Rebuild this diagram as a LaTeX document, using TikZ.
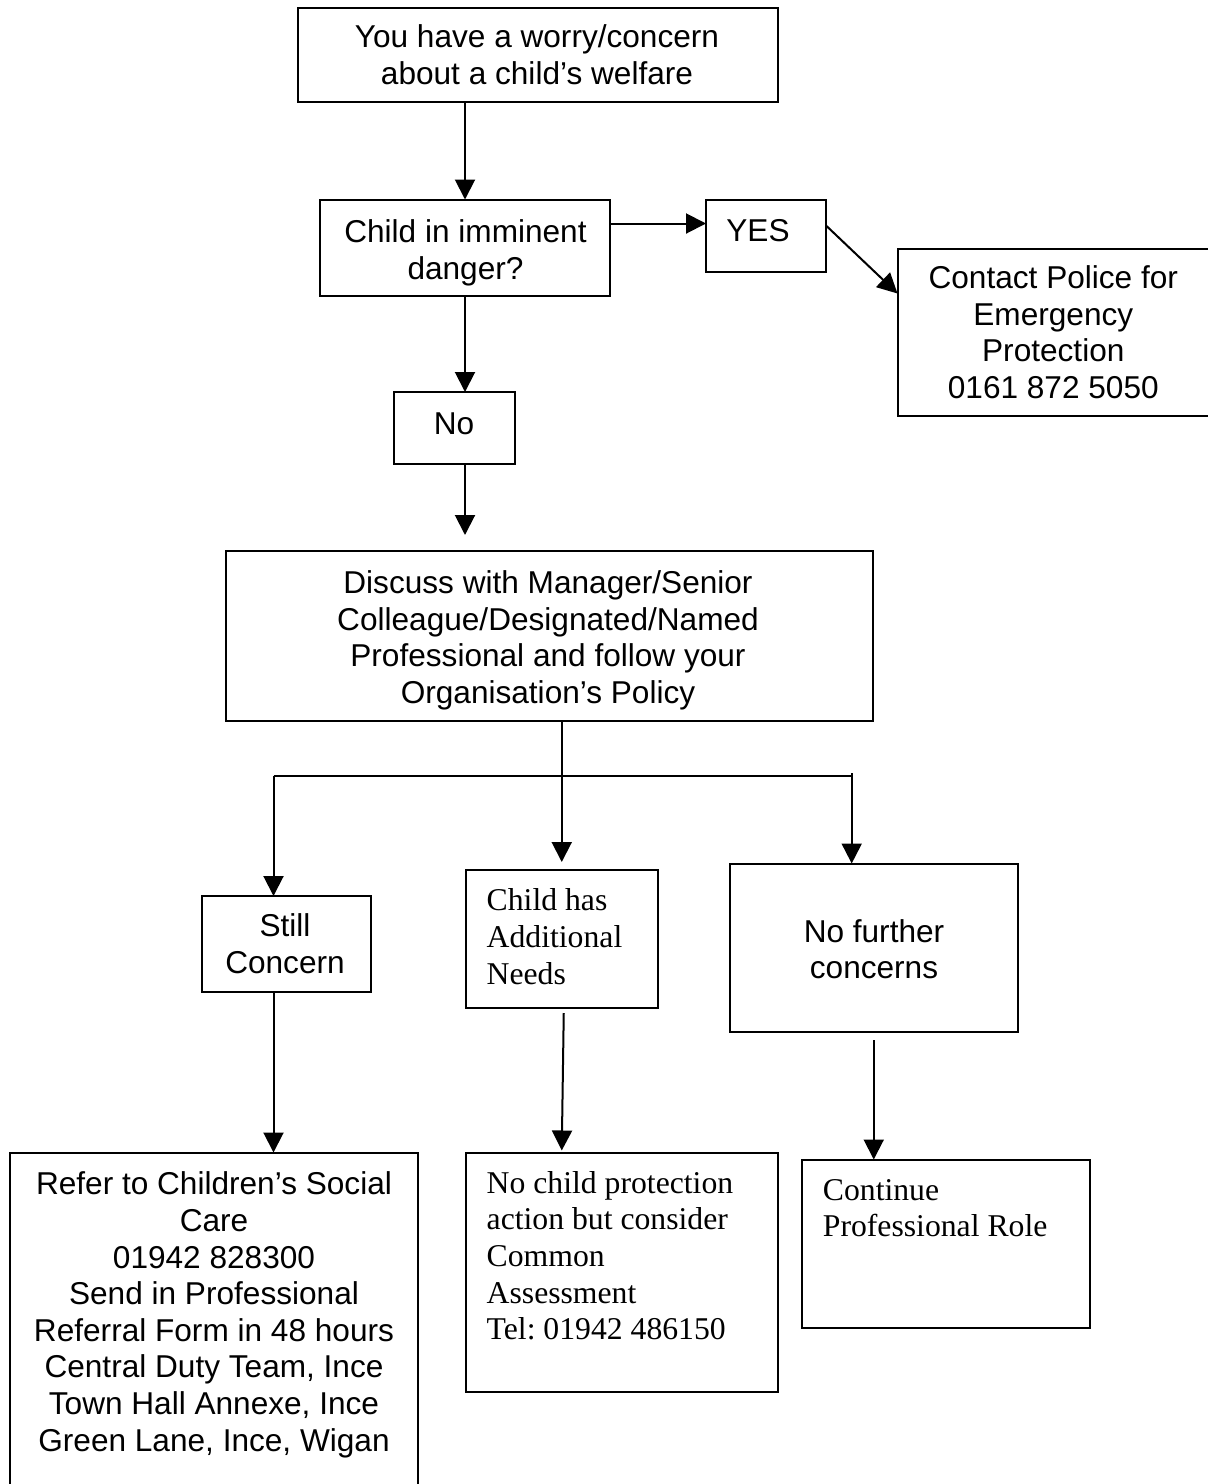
\documentclass[tikz,border=0pt]{standalone}
\usepackage{fontspec}
\setmainfont{Liberation Sans}
\newfontfamily\tms{Liberation Serif}
\usetikzlibrary{arrows.meta,calc}
\frenchspacing

\tikzset{
  box/.style={draw, line width=2pt, inner sep=0pt, outer sep=0pt},
  % multi-line texts are placed by the baseline of their last line
  sans/.style={inner sep=0pt, align=center, anchor=base, font=\fontsize{31.6}{36.6}\selectfont},
  serif/.style={inner sep=0pt, align=left, anchor=base west, font=\tms\fontsize{31.7}{36.6}\selectfont},
  link/.style={line width=2pt},
  arr/.style={line width=2pt, -{Triangle[width=20pt,length=20pt]}}
}

\begin{document}
\begin{tikzpicture}[x=1pt, y=-1pt]
  \clip (0,0) rectangle (1208,1484);
  \fill[white] (0,0) rectangle (1208,1484);

  % boxes
  \node[box, minimum width=480.5pt, minimum height=94.5pt] (b1) at (537.75,54.75) {};
  \node[box, minimum width=290pt, minimum height=96.5pt] (b2) at (465,247.75) {};
  \node[box, minimum width=120pt, minimum height=72.5pt] (yes) at (766,235.75) {};
  \node[box, minimum width=332.5pt, minimum height=167pt] (police) at (1063.75,332) {};
  \node[box, minimum width=121pt, minimum height=72pt] (no) at (454,428) {};
  \node[box, minimum width=647pt, minimum height=169.5pt] (discuss) at (549.5,635.75) {};
  \node[box, minimum width=169pt, minimum height=96pt] (still) at (286,944) {};
  \node[box, minimum width=192.5pt, minimum height=138pt] (addl) at (561.75,939) {};
  \node[box, minimum width=288.5pt, minimum height=168.5pt] (nofur) at (873.75,947.75) {};
  \node[box, minimum width=408pt, minimum height=367.5pt] (refer) at (214,1336.25) {};
  \node[box, minimum width=312pt, minimum height=239.5pt] (nocp) at (621.5,1272.25) {};
  \node[box, minimum width=288pt, minimum height=168.5pt] (cont) at (946,1243.75) {};

  % texts
  \node[sans] (t1) at (537,84.2) {You have a worry/concern\\about a child’s welfare};
  \node[sans] (t2) at (465.5,279) {Child in imminent\\danger?};
  \node[sans] (tyes) at (758,241.5) {YES};
  \node[sans] (tpol) at (1053.3,398.3) {Contact Police for\\Emergency\\Protection\\0161 872 5050};
  \node[sans] (tno) at (454,434) {No};
  \node[sans] (tdis) at (548,703.5) {Discuss with Manager/Senior\\Colleague/Designated/Named\\Professional and follow your\\Organisation’s Policy};
  \node[sans] (tstill) at (285,973.5) {Still\\Concern};
  \node[serif] (taddl) at (486.5,984) {Child has\\Additional\\Needs};
  \node[sans] (tnofur) at (874,978.7) {No further\\concerns};
  \node[sans] (tref) at (214,1451) {Refer to Children’s Social\\Care\\01942 828300\\Send in Professional\\Referral Form in 48 hours\\Central Duty Team, Ince\\Town Hall Annexe, Ince\\Green Lane, Ince, Wigan};
  \node[serif] (tnocp) at (486.5,1339.6) {No child protection\\action but consider\\Common\\Assessment\\Tel: 01942 486150};
  \node[serif] (tcont) at (822.7,1236.9) {Continue\\Professional Role};

  % junction points of the three-way split
  \coordinate (jl) at (273.5,775.7);
  \coordinate (jr) at (851.7,775.7);

  % connectors
  \draw[arr] (b1.south -| b2.north) -- (b2.north);
  \draw[arr] ([yshift=-24pt]b2.north east) -- ([yshift=-24pt]yes.north west);
  \draw[arr] ([yshift=-26pt]yes.north east) -- ([yshift=-45pt]police.north west);
  \draw[arr] (b2.south) -- (no.north -| b2.south);
  \draw[arr] (no.south -| b2.south) -- ([yshift=16pt]discuss.north -| b2.south);
  \draw[arr] (discuss.south -| addl.north) -- ([yshift=8pt]addl.north);
  \draw[link] (jl) -- (jr);
  \draw[arr] (jl) -- (jl |- still.north);
  \draw[arr] ([yshift=2.4pt]jr) -- (jr |- nofur.north);
  \draw[arr] (still.south -| jl) -- (refer.north -| jl);
  \draw[arr] ([xshift=2pt,yshift=-5pt]addl.south) -- ([yshift=2pt]nocp.north -| addl.south);
  \draw[arr] ([yshift=-8pt]nofur.south) -- (cont.north -| nofur.south);
\end{tikzpicture}
\end{document}
